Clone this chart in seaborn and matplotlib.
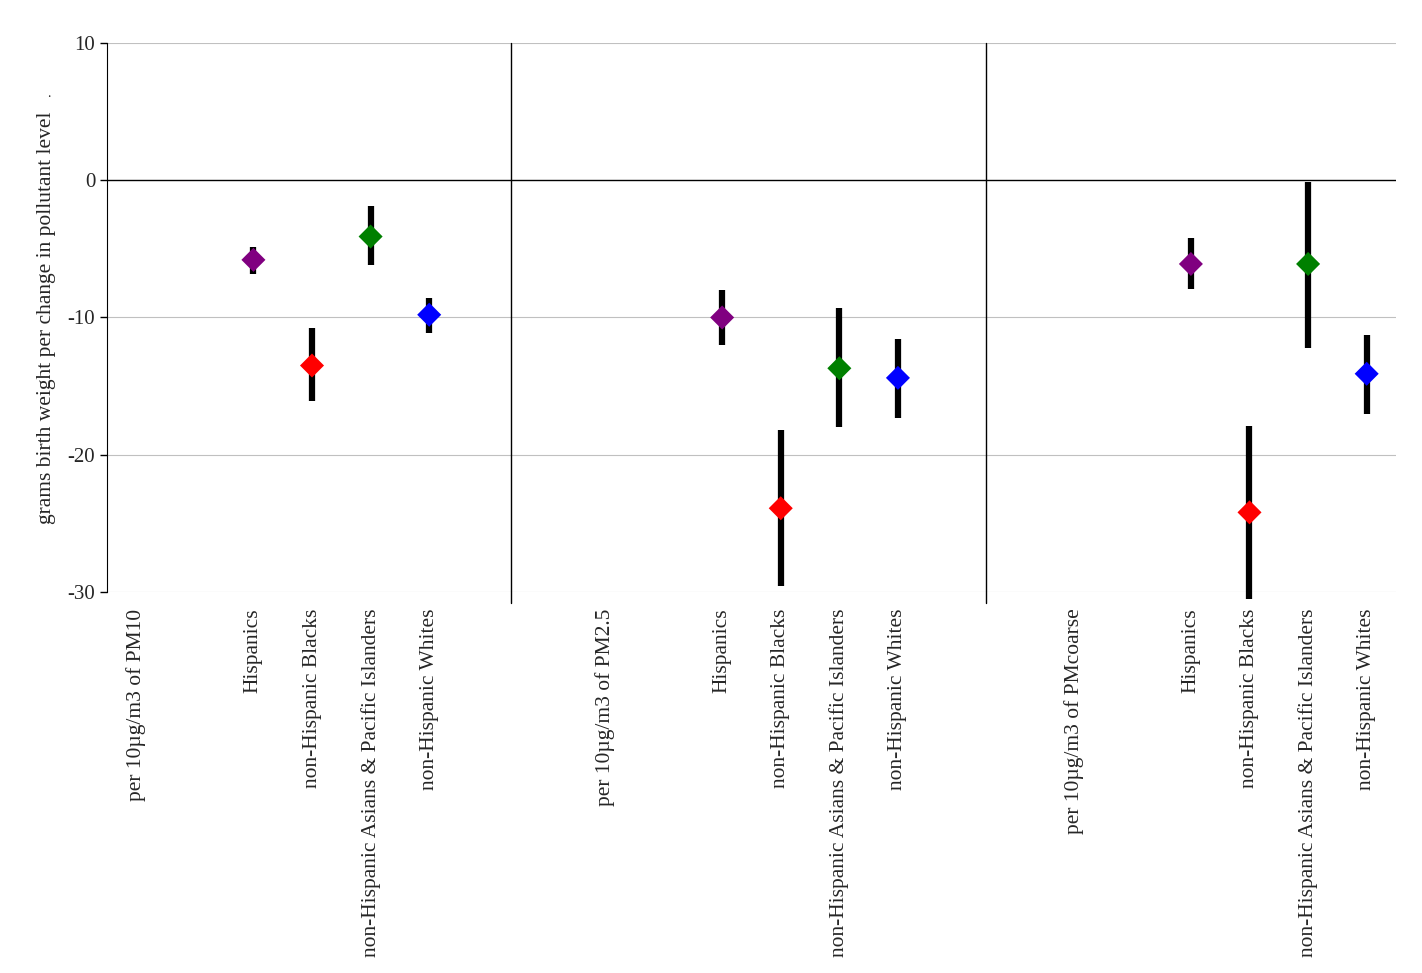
import matplotlib
matplotlib.use("Agg")
import matplotlib.pyplot as plt
import numpy as np
import pandas as pd
import seaborn as sns

sns.set_style("white")
plt.rcParams['font.family'] = ['Liberation Serif', 'DejaVu Serif']
plt.rcParams['axes.unicode_minus'] = False

labels = ["per 10µg/m3 of PM10", "", "Hispanics", "non-Hispanic Blacks",
          "non-Hispanic Asians & Pacific Islanders", "non-Hispanic Whites", "", "",
          "per 10µg/m3 of PM2.5", "", "Hispanics", "non-Hispanic Blacks",
          "non-Hispanic Asians & Pacific Islanders", "non-Hispanic Whites", "", "",
          "per 10µg/m3 of PMcoarse", "", "Hispanics", "non-Hispanic Blacks",
          "non-Hispanic Asians & Pacific Islanders", "non-Hispanic Whites"]
groups = ["Hispanics", "non-Hispanic Blacks", "non-Hispanic Asians & Pacific Islanders",
          "non-Hispanic Whites"] * 3
slots = [2, 3, 4, 5, 10, 11, 12, 13, 18, 19, 20, 21]
estimate = [-5.8, -13.5, -4.1, -9.8, -10.0, -23.9, -13.7, -14.4, -6.1, -24.2, -6.1, -14.1]
lower = [-6.8, -16.1, -6.2, -11.1, -12.0, -29.6, -18.0, -17.3, -7.9, -30.5, -12.2, -17.0]
upper = [-4.9, -10.8, -1.9, -8.6, -8.0, -18.2, -9.3, -11.6, -4.2, -17.9, -0.1, -11.3]
palette = {"Hispanics": "#800080", "non-Hispanic Blacks": "#ff0000",
           "non-Hispanic Asians & Pacific Islanders": "#008000", "non-Hispanic Whites": "#0000ff"}
separators = [6.4, 14.5]

df = pd.DataFrame({"x": slots, "y": estimate, "lo": lower, "hi": upper, "group": groups})

fig = plt.figure(figsize=(14.22, 9.73), dpi=100)
ax = fig.add_axes([0.0752, 0.3916, 0.9065, 0.5642])
ax.set_xlim(-0.5, 21.5)
ax.set_ylim(-30, 10)
ax.set_yticks([-30, -20, -10, 0, 10])
for v in [-30, -20, -10, 10]:
    ax.axhline(v, color="#c0c0c0", lw=0.8, zorder=0)
ax.axhline(0, color="black", lw=1, zorder=1)
ax.vlines(df["x"], df["lo"], df["hi"], color="black", lw=4.5, zorder=2, clip_on=False)
sns.scatterplot(data=df, x="x", y="y", hue="group", palette=palette, marker="D",
                s=150, edgecolor="none", legend=False, ax=ax, zorder=3)
for s in separators:
    ax.plot([s, s], [10, -30.8], color="black", lw=1, clip_on=False)

ax.set_xticks(range(len(labels)))
ax.set_xticklabels(labels, rotation=90, va="top", fontsize=15.5)
ax.tick_params(axis="x", length=0, pad=12)
ax.tick_params(axis="y", direction="out", length=5, width=1, color="black", left=True, labelsize=15)
for side in ["top", "right", "bottom"]:
    ax.spines[side].set_visible(False)
ax.spines["left"].set_color("black")
ax.set_xlabel("")
ax.set_ylabel("grams birth weight per change in pollutant level", fontsize=15.5, labelpad=8)
fig.text(0.033, 0.9, ".", fontsize=10)
fig.savefig("out.png", dpi=100)
